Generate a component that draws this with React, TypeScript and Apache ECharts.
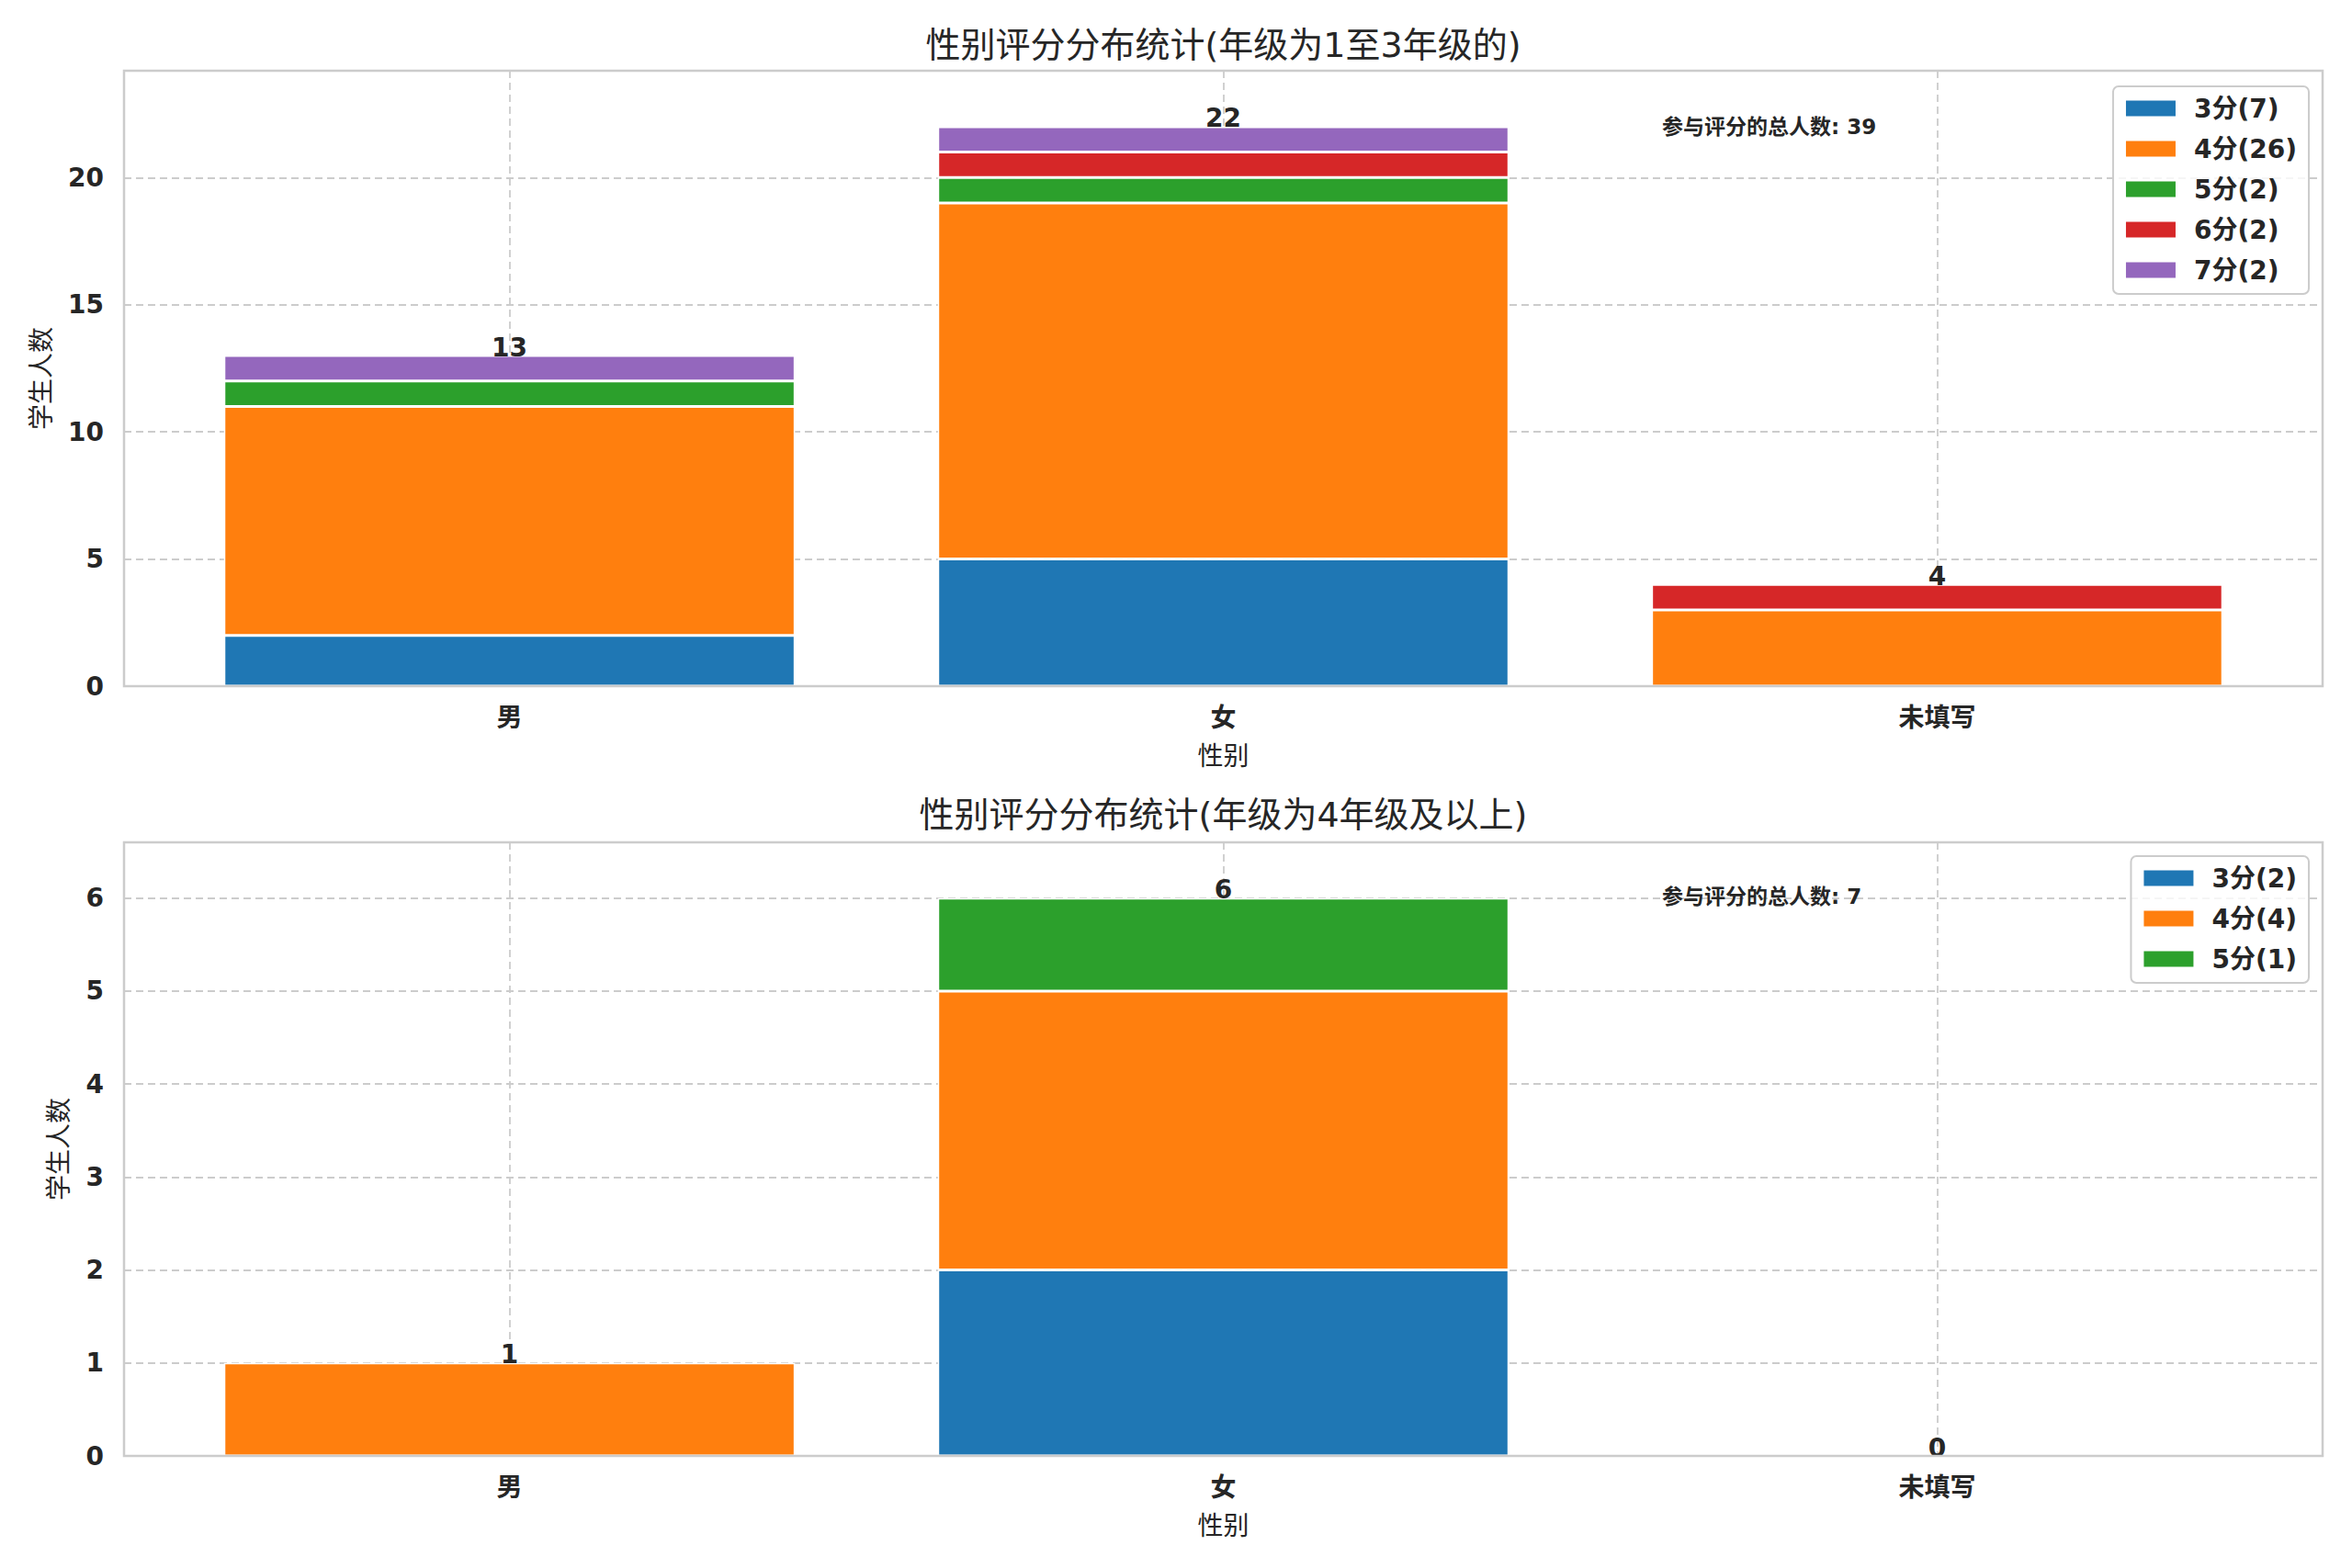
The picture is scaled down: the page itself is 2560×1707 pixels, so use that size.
import React, { useEffect, useRef } from "react";
import * as echarts from "echarts";

const categories = ["男", "女", "未填写"];
const scoreLevels1 = ["3", "4", "5", "6", "7"];
const scoreLevels2 = ["3", "4", "5"];
// top chart: grades 1-3, values per category [男, 女, 未填写]
const top3 = [2, 5, 0];
const top4 = [9, 14, 3];
const top5 = [1, 1, 0];
const top6 = [0, 1, 1];
const top7 = [1, 1, 0];
// bottom chart: grade 4+
const bot3 = [0, 2, 0];
const bot4 = [1, 3, 0];
const bot5 = [0, 1, 0];
const yTicks1 = [0, 5, 10, 15, 20];
const yTicks2 = [0, 1, 2, 3, 4, 5, 6];

const title1 = "性别评分分布统计(年级为1至3年级的)";
const title2 = "性别评分分布统计(年级为4年级及以上)";
const xName = "性别";
const yName = "学生人数";
const noteLabel = "参与评分的总人数";

const COLORS = ["#1f77b4", "#ff7f0e", "#2ca02c", "#d62728", "#9467bd"];
const FONT = "'DejaVu Sans', 'Noto Sans CJK SC', sans-serif";
const TXT = "#262626";

export default function App() {
  const ref = useRef<HTMLDivElement>(null);
  useEffect(() => {
    const chart = echarts.init(ref.current!, null, { renderer: "svg" });
    const W = 2560;
    const H = 1707;
    const gridL = 135;
    const gridR = 32;
    const gridBoxes = [
      { top: 77, bottom: 747 },
      { top: 917, bottom: 1585 },
    ];
    const xMin = -0.54;
    const xMax = 2.54;
    const gridW = W - gridL - gridR;
    const pxPerUnit = gridW / (xMax - xMin);
    const barW = 0.8 * pxPerUnit;

    const sets = [
      { levels: scoreLevels1, data: [top3, top4, top5, top6, top7], ticks: yTicks1 },
      { levels: scoreLevels2, data: [bot3, bot4, bot5], ticks: yTicks2 },
    ];
    const sum = (a: number[]) => a.reduce((s, v) => s + v, 0);

    const series: any[] = [];
    const legends: any[] = [];
    const yMaxes: number[] = [];
    const grandTotals: number[] = [];
    sets.forEach((set, gi) => {
      const totals = categories.map((_, ci) => sum(set.data.map((d) => d[ci])));
      yMaxes.push(Math.max(...totals) * 1.1);
      grandTotals.push(sum(totals));
      const names: string[] = [];
      set.data.forEach((vals, si) => {
        const name = `${set.levels[si]}分(${sum(vals)})`;
        names.push(name);
        series.push({
          type: "bar",
          name,
          xAxisIndex: gi,
          yAxisIndex: gi,
          stack: "s" + gi,
          barWidth: barW,
          encode: { x: 1, y: 0 },
          itemStyle: { color: COLORS[si], borderColor: "#ffffff", borderWidth: 1.5 },
          data: vals.map((v, ci) => [v === 0 ? null : v, ci]),
        });
      });
      series.push({
        type: "scatter",
        name: "total" + gi,
        xAxisIndex: gi,
        yAxisIndex: gi,
        symbolSize: 0,
        z: 10,
        itemStyle: { opacity: 1 },
        label: {
          show: true,
          position: "top",
          distance: -5,
          formatter: (p: any) => String(p.value[1]),
          fontSize: 28,
          fontWeight: "bold",
          fontFamily: FONT,
          color: TXT,
        },
        data: totals.map((t, ci) => [ci, t]),
      });
      legends.push({
        data: names,
        orient: "vertical",
        right: 47,
        top: gi === 0 ? 94 : 932,
        padding: [10, 13, 12, 12],
        itemWidth: 56,
        itemHeight: 19,
        itemGap: 16,
        icon: "rect",
        selectedMode: false,
        backgroundColor: "rgba(255,255,255,0.8)",
        borderColor: "#cccccc",
        borderWidth: 2,
        borderRadius: 6,
        formatter: "{a|{name}}",
        textStyle: {
          rich: {
            a: {
              fontSize: 28,
              fontWeight: "bold",
              fontFamily: FONT,
              color: TXT,
              lineHeight: 28,
              padding: [0, 0, 0, 14],
            },
          },
        },
      });
    });

    const splitLine = { show: true, lineStyle: { color: "#cccccc", width: 1.8, type: [8, 5] } };
    const grids = gridBoxes.map((g) => ({
      left: gridL,
      right: gridR,
      top: g.top,
      bottom: H - g.bottom,
      show: true,
      borderWidth: 0,
      backgroundColor: "#ffffff",
      containLabel: false,
    }));

    const xAxes = [0, 1].map((gi) => ({
      type: "value",
      gridIndex: gi,
      min: xMin,
      max: xMax,
      axisLine: { show: false },
      axisTick: { show: false, customValues: categories.map((_, i) => i) },
      splitLine,
      axisLabel: {
        customValues: categories.map((_, i) => i),
        formatter: (v: number) => categories[Math.round(v)] ?? "",
        fontSize: 28,
        fontWeight: "bold",
        fontFamily: FONT,
        color: TXT,
        margin: 20,
      },
      name: xName,
      nameLocation: "middle",
      nameGap: 62,
      nameTextStyle: { fontSize: 28, fontFamily: FONT, color: TXT },
    }));

    const yAxes = [0, 1].map((gi) => {
      const ticks = sets[gi].ticks;
      const interval = ticks[1] - ticks[0];
      return {
        type: "value",
        gridIndex: gi,
        min: 0,
        max: yMaxes[gi],
        interval,
        axisLine: { show: false },
        axisTick: { show: false },
        splitLine,
        axisLabel: {
          showMaxLabel: false,
          formatter: (v: number) => (ticks.includes(v) ? String(v) : ""),
          fontSize: 28,
          fontWeight: "bold",
          fontFamily: FONT,
          color: TXT,
          margin: 22,
        },
        name: yName,
        nameLocation: "middle",
        nameGap: gi === 0 ? 76 : 57,
        nameTextStyle: { fontSize: 28, fontFamily: FONT, color: TXT },
      };
    });

    const cx = gridL + gridW / 2;
    const titles = [
      { text: title1, left: cx, top: 30, textAlign: "center", padding: 0, textStyle: { fontSize: 38, fontWeight: "normal", fontFamily: FONT, color: TXT, lineHeight: 38 } },
      { text: title2, left: cx, top: 868, textAlign: "center", padding: 0, textStyle: { fontSize: 38, fontWeight: "normal", fontFamily: FONT, color: TXT, lineHeight: 38 } },
      { text: `${noteLabel}: ${grandTotals[0]}`, left: 1809, top: 126, padding: 0, textStyle: { fontSize: 23, fontWeight: "bold", fontFamily: FONT, color: TXT, lineHeight: 23 } },
      { text: `${noteLabel}: ${grandTotals[1]}`, left: 1809, top: 964, padding: 0, textStyle: { fontSize: 23, fontWeight: "bold", fontFamily: FONT, color: TXT, lineHeight: 23 } },
    ];

    const frames = gridBoxes.map((g) => ({
      type: "rect",
      z: 100,
      silent: true,
      shape: { x: gridL, y: g.top, width: gridW, height: g.bottom - g.top },
      style: { fill: "none", stroke: "#cccccc", lineWidth: 2.5 },
    }));

    chart.setOption({
      animation: false,
      backgroundColor: "#ffffff",
      title: titles,
      grid: grids,
      xAxis: xAxes,
      yAxis: yAxes,
      legend: legends,
      graphic: frames,
      series,
    });
    return () => chart.dispose();
  }, []);
  return <div ref={ref} style={{ position: "fixed", left: 0, top: 0, width: "100vw", height: "100vh" }} />;
}
